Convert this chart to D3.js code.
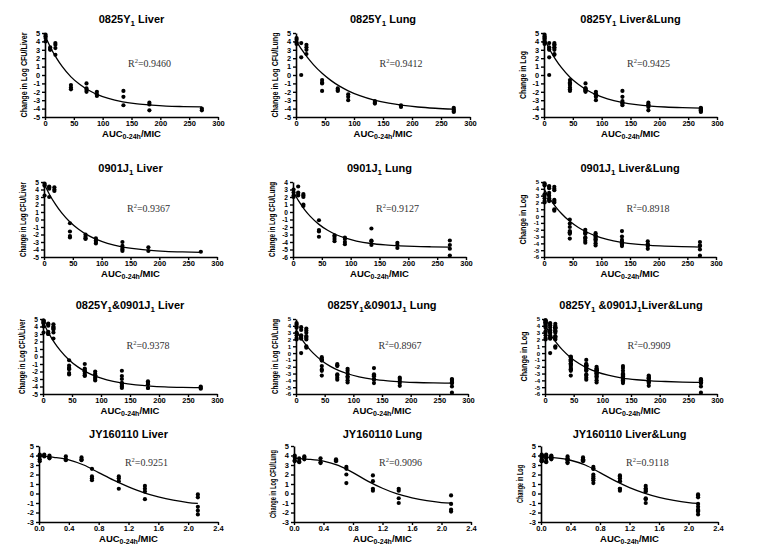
<!DOCTYPE html>
<html><head><meta charset="utf-8">
<script src="https://cdn.jsdelivr.net/npm/d3@7"></script>
<style>body{margin:0;background:#fff}svg{display:block}</style>
</head><body>
<svg id="c" width="758" height="557"></svg>
<script>
// ---------- DATA ----------
const doseAUC = [1, 9, 18, 45, 72, 90, 136, 181, 272];
const doseJY = [0.01, 0.07, 0.14, 0.36, 0.57, 0.71, 1.07, 1.42, 2.13];
const ticksAUC = [0, 50, 100, 150, 200, 250, 300];
const ticksJY = [0.0, 0.4, 0.8, 1.2, 1.6, 2.0, 2.4];

// observed points per dose group
const liver0825 = [[4.8,4.6,4.4,4.0],[3.3,3.1,3.0],[3.8,3.6,3.2,2.4],[-1.2,-1.5,-1.7],[-1.0,-1.6,-1.8,-2.0],[-2.0,-2.3,-2.5],[-1.9,-2.6,-3.6],[-3.3,-3.5,-4.2],[-4.0,-4.2]];
const lung0825 = [[4.4,4.2,3.9,3.7],[3.8,2.1,0.0],[3.6,3.3,3.0,2.5],[-0.6,-0.9,-1.0,-1.9],[-1.6,-1.8,-1.9],[-2.3,-2.6,-3.0],[-3.1,-3.3,-3.4],[-3.6,-3.8],[-3.9,-4.1,-4.3,-4.4]];
const liver0901 = [[4.8,4.6,4.5,3.2],[4.4,4.3,4.1,3.0],[4.3,4.0,3.8],[-0.5,-1.6,-2.2,-2.4],[-2.0,-2.3,-2.5,-2.6],[-2.5,-2.8,-3.0,-3.2],[-3.0,-3.5,-3.8,-4.0,-4.2],[-3.7,-4.2],[-4.3]];
const lung0901 = [[3.0,2.6,2.2,2.0],[3.4,2.6,2.4,2.2],[2.4,2.2,2.0,1.0,0.8],[-1.1,-2.4,-2.6,-3.3],[-3.1,-3.3,-3.6,-3.9],[-3.4,-3.6,-4.0,-4.3],[-2.2,-3.8,-3.9,-4.4],[-4.1,-4.4,-4.8],[-3.8,-4.4,-4.9,-5.8]];
const liverJY = [[4.1,4.0,3.9,3.6,3.4],[4.1,4.0,3.9],[4.0,3.8,3.7],[3.9,3.6,3.5],[3.8,3.6,3.5],[2.6,1.8,1.6,1.4],[1.8,1.6,1.3,0.5],[0.8,0.5,0.2,-0.6],[-0.1,-0.4,-1.4,-1.8,-2.2]];
const lungJY = [[4.0,3.8,3.5,3.4],[3.7,3.4,3.3],[3.9,3.8,3.6],[3.7,3.3,3.2],[3.6,3.5,3.4],[2.8,2.6,2.0,1.1],[1.9,1.3,0.5,0.3],[0.5,0.3,-0.5,-1.0],[-0.2,-1.1,-1.7,-1.9]];

// fitted curves
const curveAUCx = [0,10,20,30,45,60,75,90,110,135,160,185,210,240,272];
const fit0825Liver = [4.70,3.22,2.00,0.99,-0.22,-1.11,-1.79,-2.30,-2.79,-3.19,-3.44,-3.59,-3.70,-3.76,-3.80];
const fit0825Lung = [4.10,3.01,2.06,1.24,0.20,-0.64,-1.33,-1.88,-2.46,-2.99,-3.36,-3.62,-3.81,-3.96,-4.07];
const fit0825Both = [4.40,3.01,1.86,0.90,-0.26,-1.14,-1.82,-2.34,-2.84,-3.26,-3.53,-3.70,-3.81,-3.89,-3.94];
const fit0901Liver = [4.80,3.27,2.01,0.94,-0.33,-1.30,-2.05,-2.62,-3.17,-3.64,-3.93,-4.12,-4.24,-4.33,-4.39];
const fit0901Lung = [2.80,1.44,0.33,-0.58,-1.65,-2.44,-3.03,-3.46,-3.87,-4.20,-4.39,-4.51,-4.59,-4.64,-4.67];
const fit0901Both = [4.00,2.58,1.40,0.41,-0.77,-1.68,-2.37,-2.90,-3.41,-3.84,-4.12,-4.29,-4.40,-4.49,-4.54];
const fitMixLiver = [4.60,3.08,1.82,0.78,-0.46,-1.38,-2.08,-2.61,-3.11,-3.52,-3.78,-3.94,-4.04,-4.11,-4.15];
const fitMixLung = [3.40,2.04,0.92,0.00,-1.11,-1.94,-2.56,-3.03,-3.48,-3.85,-4.07,-4.21,-4.31,-4.37,-4.40];
const fitMixBoth = [4.10,2.67,1.49,0.50,-0.67,-1.56,-2.24,-2.75,-3.24,-3.66,-3.91,-4.07,-4.17,-4.25,-4.30];
const curveJYx = [0,0.2,0.4,0.6,0.8,1.0,1.2,1.4,1.6,1.8,2.0,2.13];
const fitJYLiver = [3.95,3.80,3.55,3.00,2.20,1.40,0.70,0.10,-0.35,-0.70,-0.95,-1.05];
const fitJYLung = [3.70,3.60,3.40,2.95,2.20,1.30,0.55,-0.05,-0.45,-0.75,-0.95,-1.02];
const fitJYBoth = [3.85,3.75,3.50,3.00,2.20,1.35,0.62,0.05,-0.40,-0.72,-0.95,-1.05];

const r2Values = ["0.9460","0.9412","0.9425","0.9367","0.9127","0.8918","0.9378","0.8967","0.9909","0.9251","0.9096","0.9118"];
const yTitles = ["Change in Log CFU/Liver","Change in Log CFU/Lung","Change in Log"];

// ---------- BUILD ----------
const merge = (...sets) => sets[0].map((_, i) => sets.flatMap(s => s[i]));
const titleParts = [
  [["0825Y",0],["1",1],[" Liver",0]],
  [["0825Y",0],["1",1],[" Lung",0]],
  [["0825Y",0],["1",1],[" Liver&Lung",0]],
  [["0901J",0],["1",1],[" Liver",0]],
  [["0901J",0],["1",1],[" Lung",0]],
  [["0901J",0],["1",1],[" Liver&Lung",0]],
  [["0825Y",0],["1",1],["&0901J",0],["1",1],[" Liver",0]],
  [["0825Y",0],["1",1],["&0901J",0],["1",1],[" Lung",0]],
  [["0825Y",0],["1",1],[" &0901J",0],["1",1],["Liver&Lung",0]],
  [["JY160110 Liver",0]],
  [["JY160110 Lung",0]],
  [["JY160110 Liver&Lung",0]]
];
const panelPts = [liver0825, lung0825, merge(liver0825, lung0825),
  liver0901, lung0901, merge(liver0901, lung0901),
  merge(liver0825, liver0901), merge(lung0825, lung0901), merge(liver0825, lung0825, liver0901, lung0901),
  liverJY, lungJY, merge(liverJY, lungJY)];
const panelFits = [fit0825Liver, fit0825Lung, fit0825Both, fit0901Liver, fit0901Lung, fit0901Both,
  fitMixLiver, fitMixLung, fitMixBoth, fitJYLiver, fitJYLung, fitJYBoth];
const yDomains = [[-5,5],[-5,5],[-5,5],[-5,5],[-6,4],[-6,5],[-5,5],[-6,5],[-6,5],[-3,5],[-3,5],[-3,5]];

// layout
const rowTop = [33, 182, 319, 446], rowBot = [117, 257, 394, 522];
const colLeft = [[45,296,544],[44,293,544],[43,296,545],[39,294,541]];
const colRight = [[218,470,717],[217,466,716],[217,468,717],[218,471,718]];

const svg = d3.select('#c');
const font = 'Liberation Sans, Arial, Helvetica, sans-serif';

for (let p = 0; p < 12; p++) {
  const row = Math.floor(p / 3), col = p % 3;
  const jy = row === 3;
  const L = colLeft[row][col], R = colRight[row][col], T = rowTop[row], B = rowBot[row];
  const x = d3.scaleLinear().domain(jy ? [0, 2.4] : [0, 300]).range([L, R]);
  const y = d3.scaleLinear().domain(yDomains[p]).range([B, T]);
  const g = svg.append('g');

  // axes
  const yTicks = d3.range(yDomains[p][0], yDomains[p][1] + 1);
  const step = (B - T) / (yTicks.length - 1);
  const ya = g.append('g').attr('transform', `translate(${L},0)`)
    .call(d3.axisLeft(y).tickValues(yTicks).tickFormat(d => String(d)).tickSize(3).tickSizeOuter(0).tickPadding(2));
  const xa = g.append('g').attr('transform', `translate(0,${B})`)
    .call(d3.axisBottom(x).tickValues(jy ? ticksJY : ticksAUC).tickFormat(jy ? d3.format('.1f') : d3.format('d')).tickSize(3).tickSizeOuter(0).tickPadding(1));
  [ya, xa].forEach(a => {
    a.select('.domain').attr('stroke', '#000').attr('stroke-width', 1.6);
    a.selectAll('.tick line').attr('stroke', '#000').attr('stroke-width', 1.4);
    a.selectAll('.tick text').attr('font-family', font).attr('font-weight', 'bold').attr('fill', '#000');
  });
  ya.selectAll('.tick text').attr('font-size', Math.min(7.5, step * 0.88));
  xa.selectAll('.tick text').attr('font-size', 7.5);

  // fitted curve
  const cx = jy ? curveJYx : curveAUCx;
  const line = d3.line().x((d, i) => x(cx[i])).y(d => y(d)).curve(d3.curveMonotoneX);
  g.append('path').attr('d', line(panelFits[p])).attr('fill', 'none').attr('stroke', '#000').attr('stroke-width', 1.3);

  // points
  const doses = jy ? doseJY : doseAUC;
  const pts = panelPts[p].flatMap((vals, i) => vals.map(v => [doses[i], v]));
  g.selectAll('circle.pt').data(pts).enter().append('circle')
    .attr('cx', d => x(d[0])).attr('cy', d => y(d[1])).attr('r', 2.1).attr('fill', '#000');

  // title
  const t = g.append('text').attr('x', (L + R) / 2).attr('y', T - (jy ? 8 : 10))
    .attr('text-anchor', 'middle').attr('font-family', font).attr('font-weight', 'bold').attr('font-size', 11);
  let prevSub = false;
  titleParts[p].forEach(([s, sub]) => {
    t.append('tspan').text(s).attr('font-size', sub ? 8 : 11).attr('dy', sub ? 3 : (prevSub ? -3 : 0));
    prevSub = !!sub;
  });

  // x title
  const xt = g.append('text').attr('x', (L + R) / 2).attr('y', B + 20)
    .attr('text-anchor', 'middle').attr('font-family', font).attr('font-weight', 'bold').attr('font-size', 9.5);
  xt.append('tspan').text('AUC');
  xt.append('tspan').text('0-24h').attr('font-size', 7).attr('dy', 2);
  xt.append('tspan').text('/MIC').attr('dy', -2);

  // y title
  if (p !== 9) {
    const lbl = yTitles[col];
    const full = col < 2;
    const len = full ? (row === 0 ? 85 : row === 3 ? 68 : 75) : (row === 0 ? 48 : row === 3 ? 38 : 50);
    g.append('text').attr('transform', `translate(${L - 20},${(T + B) / 2}) rotate(-90)`)
      .attr('text-anchor', 'middle').attr('dominant-baseline', 'middle')
      .attr('font-family', 'Liberation Sans Narrow, Arial Narrow, ' + font).attr('font-weight', 'bold').attr('font-size', 9)
      .attr('textLength', len).attr('lengthAdjust', 'spacingAndGlyphs').text(lbl);
  }

  // R^2
  const rt = g.append('text').attr('x', L + (R - L) * 0.48).attr('y', T + (B - T) * (jy ? 0.26 : 0.4))
    .attr('font-family', 'Liberation Serif, Times New Roman, serif').attr('font-size', 10).attr('fill', '#333');
  rt.append('tspan').text('R');
  rt.append('tspan').text('2').attr('font-size', 6.5).attr('dy', -4);
  rt.append('tspan').text('=' + r2Values[p]).attr('dy', 4);
}
</script>
</body></html>
